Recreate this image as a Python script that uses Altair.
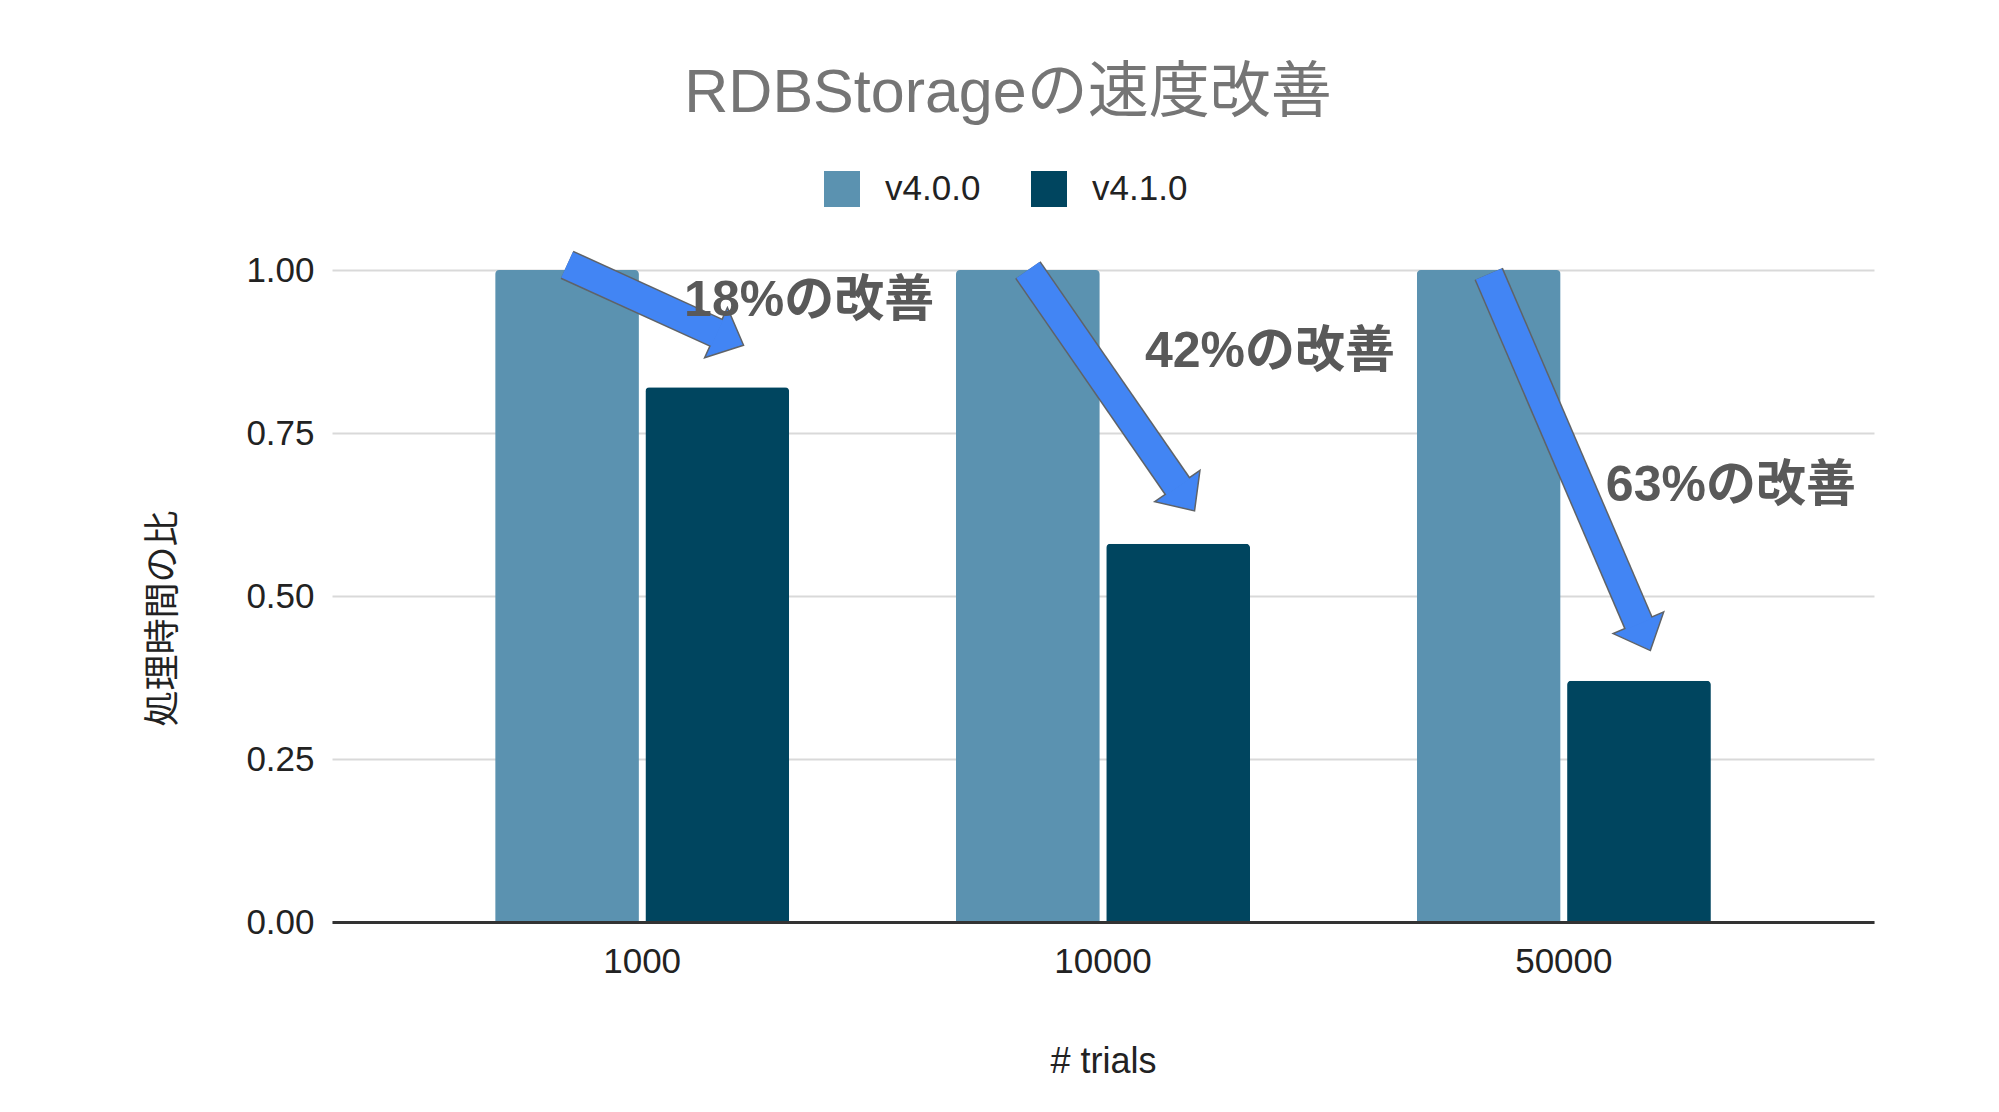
import math

import altair as alt
import pandas as pd

TRIALS = ["1000", "10000", "50000"]
VERSIONS = ["v4.0.0", "v4.1.0"]
RATIO_V400 = [1.0, 1.0, 1.0]
RATIO_V410 = [0.82, 0.58, 0.37]

NOTE_TEXT = ["18%の改善", "42%の改善", "63%の改善"]
NOTE_Y = [0.952, 0.875, 0.669]
ARROW_TAIL_Y = [1.008, 1.0, 0.994]
ARROW_HEAD_Y = [0.903, 0.667, 0.457]

LIGHT = "#5b92b0"
DARK = "#00455f"
ARROW_BLUE = "#4285f4"
ARROW_EDGE = "#5f6368"
NOTE_GRAY = "#595959"
TITLE_GRAY = "#757575"
INK = "#222222"
FONT = "Liberation Sans, Noto Sans CJK JP, sans-serif"

W, H = 1542, 652
PAD_INNER, PAD_OUTER = 0.362, 0.354
OFFSET_PAD = 0.043

# head rotation follows the shaft direction in pixels
band = W / (len(TRIALS) - PAD_INNER + 2 * PAD_OUTER) * (1 - PAD_INNER)
offset_step = band / (len(VERSIONS) - OFFSET_PAD)


def head_angle(tail, head):
    return math.degrees(math.atan2((tail - head) * H, offset_step)) + 90


bars_df = pd.DataFrame(
    [{"trials": t, "version": VERSIONS[0], "value": v} for t, v in zip(TRIALS, RATIO_V400)]
    + [{"trials": t, "version": VERSIONS[1], "value": v} for t, v in zip(TRIALS, RATIO_V410)]
)

arrow_rows = []
for i, t in enumerate(TRIALS):
    arrow_rows.append({"arrow": i, "trials": t, "version": VERSIONS[0], "value": ARROW_TAIL_Y[i], "order": 0})
    arrow_rows.append({"arrow": i, "trials": t, "version": VERSIONS[1], "value": ARROW_HEAD_Y[i], "order": 1})
arrow_df = pd.DataFrame(arrow_rows)

head_df = pd.DataFrame({
    "trials": TRIALS,
    "version": [VERSIONS[1]] * len(TRIALS),
    "value": ARROW_HEAD_Y,
    "angle": [head_angle(a, b) for a, b in zip(ARROW_TAIL_Y, ARROW_HEAD_Y)],
})

note_df = pd.DataFrame({"trials": TRIALS, "value": NOTE_Y, "note": NOTE_TEXT})

x = alt.X(
    "trials:N",
    sort=TRIALS,
    scale=alt.Scale(paddingInner=PAD_INNER, paddingOuter=PAD_OUTER),
    axis=alt.Axis(
        title="# trials",
        labelAngle=0,
        labelFont=FONT,
        labelFontSize=35,
        labelColor=INK,
        labelPadding=22,
        ticks=False,
        tickSize=0,
        grid=False,
        domainColor="#333333",
        domainWidth=3,
        titleFont=FONT,
        titleFontSize=36,
        titleFontWeight="normal",
        titleColor=INK,
        titleY=139,
        titleBaseline="middle",
        zindex=1,
    ),
)
x_offset = alt.XOffset(
    "version:N", sort=VERSIONS, scale=alt.Scale(paddingInner=OFFSET_PAD, paddingOuter=0)
)
y = alt.Y(
    "value:Q",
    scale=alt.Scale(domain=[0, 1], nice=False),
    axis=alt.Axis(
        title="処理時間の比",
        values=[0, 0.25, 0.5, 0.75, 1],
        format=".2f",
        labelFont=FONT,
        labelFontSize=35,
        labelColor=INK,
        labelPadding=18,
        ticks=False,
        domain=False,
        gridColor="#d9d9d9",
        gridWidth=2,
        titleFont="Noto Sans CJK JP",
        titleFontSize=36,
        titleFontWeight="normal",
        titleColor=INK,
        titleAngle=270,
        titleAlign="center",
        titleBaseline="middle",
        titleX=-169,
        titleY=348,
    ),
)

bars = alt.Chart(bars_df).mark_bar(
    cornerRadiusTopLeft=4, cornerRadiusTopRight=4
).encode(
    x=x,
    xOffset=x_offset,
    y=y,
    color=alt.Color(
        "version:N",
        scale=alt.Scale(domain=VERSIONS, range=[LIGHT, DARK]),
        legend=alt.Legend(
            title=None,
            orient="none",
            legendX=492,
            legendY=-99,
            direction="horizontal",
            symbolType="square",
            symbolSize=1296,
            symbolStrokeWidth=0,
            symbolOpacity=1,
            labelFont=FONT,
            labelFontSize=35,
            labelColor=INK,
            labelOffset=25,
            columnPadding=50,
            padding=0,
        ),
    ),
)

shaft_edge = alt.Chart(arrow_df).mark_line(
    color=ARROW_EDGE, strokeWidth=31, strokeCap="butt"
).encode(x=x, xOffset=x_offset, y=y, detail="arrow:N", order="order:Q")

head = alt.Chart(head_df).mark_point(
    shape="M-1,0.05L1,0.05L0,-1.05Z",
    size=3025,
    filled=True,
    fill=ARROW_BLUE,
    stroke=ARROW_EDGE,
    strokeWidth=1.5,
    opacity=1,
).encode(x=x, xOffset=x_offset, y=y, angle=alt.Angle("angle:Q", scale=None))

shaft = alt.Chart(arrow_df).mark_line(
    color=ARROW_BLUE, strokeWidth=28, strokeCap="butt"
).encode(x=x, xOffset=x_offset, y=y, detail="arrow:N", order="order:Q")

notes = alt.Chart(note_df).mark_text(
    align="center",
    baseline="middle",
    dx=167,
    font=FONT,
    fontSize=50,
    fontWeight="bold",
    color=NOTE_GRAY,
).encode(x=x, y=y, text="note:N")

chart = alt.layer(bars, shaft_edge, head, shaft, notes).properties(
    width=W,
    height=H,
    autosize=alt.AutoSizeParams(type="none"),
    padding={"left": 324, "top": 262, "right": 117, "bottom": 180},
    title=alt.TitleParams(
        "RDBStorageの速度改善",
        font=FONT,
        fontSize=61,
        fontWeight="normal",
        color=TITLE_GRAY,
        anchor="middle",
        frame="group",
        baseline="alphabetic",
        dx=-95,
        dy=5,
        offset=3,
    ),
).configure_view(stroke=None)

chart.save("out.html", embed_options={"renderer": "svg", "actions": False})
